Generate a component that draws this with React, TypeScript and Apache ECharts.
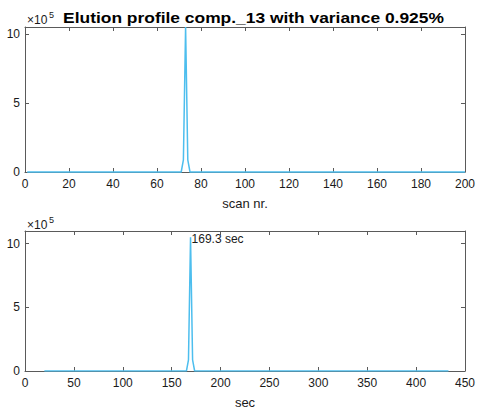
import React, { useEffect, useRef } from "react";
import * as echarts from "echarts";

// Scan numbers where the elution profile changes (flat zero elsewhere)
const scanNumbers = [1, 71, 72, 73, 74, 75, 200];
// Retention time (sec) of the same scans
const retentionSec = [19.8, 165.1, 167.2, 169.3, 171.4, 173.5, 433.1];
// Intensity of the component at those scans
const intensity = [0, 0, 88000, 1050000, 88000, 0, 0];

const titleText = "Elution profile comp._13 with variance 0.925%";
const peakLabel = "169.3 sec";
const scanTicks = { min: 0, max: 200, interval: 20 };
const secTicks = { min: 0, max: 450, interval: 50 };
const yTopMax = 1050000;
const yBottomMax = 1100000;
const yInterval = 500000;

const FONT = "'Liberation Sans', Arial, Helvetica, sans-serif";
const AX = "#5a5a5a";
const TXT = "#1a1a1a";
const BLUE = "#4DBEEE";

export default function App() {
  const ref = useRef<HTMLDivElement>(null);
  useEffect(() => {
    document.body.style.margin = "0";
    document.body.style.overflow = "hidden";
    if (!ref.current) return;
    const chart = echarts.init(ref.current, undefined, { renderer: "svg" });

    const baseX = (gridIndex: number, t: any, name: string) => ({
      type: "value",
      gridIndex,
      min: t.min,
      max: t.max,
      interval: t.interval,
      position: "bottom",
      name,
      nameLocation: "middle",
      nameGap: 25,
      nameTextStyle: { fontFamily: FONT, fontSize: 13, color: TXT },
      axisLine: { show: true, onZero: false, lineStyle: { color: AX, width: 1 } },
      axisTick: { show: true, inside: true, length: 4, lineStyle: { color: AX } },
      axisLabel: { show: true, margin: 6, fontFamily: FONT, fontSize: 12, color: TXT },
      splitLine: { show: false },
    });
    const topX = (gridIndex: number, t: any) => ({
      type: "value",
      gridIndex,
      min: t.min,
      max: t.max,
      interval: t.interval,
      position: "top",
      axisLine: { show: true, onZero: false, lineStyle: { color: AX, width: 1 } },
      axisTick: { show: true, inside: true, length: 4, lineStyle: { color: AX } },
      axisLabel: { show: false },
      splitLine: { show: false },
    });
    const fmt = (v: number) => (v % yInterval === 0 ? String(v / 100000) : "");
    const leftY = (gridIndex: number, max: number) => ({
      type: "value",
      gridIndex,
      min: 0,
      max,
      interval: yInterval,
      position: "left",
      axisLine: { show: true, onZero: false, lineStyle: { color: AX, width: 1 } },
      axisTick: { show: true, inside: true, length: 4, lineStyle: { color: AX } },
      axisLabel: { show: true, margin: 5, fontFamily: FONT, fontSize: 12, color: TXT, formatter: fmt },
      splitLine: { show: false },
    });
    const rightY = (gridIndex: number, max: number) => ({
      type: "value",
      gridIndex,
      min: 0,
      max,
      interval: yInterval,
      position: "right",
      axisLine: { show: true, onZero: false, lineStyle: { color: AX, width: 1 } },
      axisTick: { show: true, inside: true, length: 4, lineStyle: { color: AX } },
      axisLabel: { show: false },
      splitLine: { show: false },
    });

    const peakIdx = intensity.indexOf(Math.max(...intensity));

    chart.setOption({
      animation: false,
      backgroundColor: "#ffffff",
      grid: [
        { left: 25, top: 27, width: 443, height: 145 },
        { left: 25, top: 231, width: 443, height: 144 },
      ],
      xAxis: [
        baseX(0, scanTicks, "scan nr."),
        topX(0, scanTicks),
        baseX(1, secTicks, "sec"),
        topX(1, secTicks),
      ],
      yAxis: [
        leftY(0, yTopMax),
        rightY(0, yTopMax),
        leftY(1, yBottomMax),
        rightY(1, yBottomMax),
      ],
      series: [
        {
          type: "line",
          xAxisIndex: 0,
          yAxisIndex: 0,
          data: scanNumbers.map((s, i) => [s, intensity[i]]),
          showSymbol: false,
          lineStyle: { color: BLUE, width: 1.5 },
          itemStyle: { color: BLUE },
          clip: false,
        },
        {
          type: "line",
          xAxisIndex: 2,
          yAxisIndex: 2,
          data: retentionSec.map((s, i) => [s, intensity[i]]),
          showSymbol: false,
          lineStyle: { color: BLUE, width: 1.5 },
          itemStyle: { color: BLUE },
          markPoint: {
            symbol: "circle",
            symbolSize: 0,
            data: [
              {
                coord: [retentionSec[peakIdx], intensity[peakIdx]],
                label: {
                  show: true,
                  position: "right",
                  distance: 1,
                  offset: [0, 2],
                  formatter: peakLabel,
                  fontFamily: FONT,
                  fontSize: 12,
                  color: TXT,
                },
              },
            ],
          },
        },
      ],
      graphic: [
        {
          type: "text",
          x: 253.5,
          y: 17.5,
          scaleX: 1.16,
          style: {
            text: titleText,
            fontFamily: FONT,
            fontSize: 15,
            fontWeight: "bold",
            fill: "#000",
            textAlign: "center",
            textVerticalAlign: "middle",
          },
        },
        { type: "text", left: 27, top: 14, style: { text: "×10", fontFamily: FONT, fontSize: 12, fill: TXT } },
        { type: "text", left: 49, top: 10, style: { text: "5", fontFamily: FONT, fontSize: 9, fill: TXT } },
        { type: "text", left: 27, top: 219, style: { text: "×10", fontFamily: FONT, fontSize: 12, fill: TXT } },
        { type: "text", left: 49, top: 215, style: { text: "5", fontFamily: FONT, fontSize: 9, fill: TXT } },
      ],
    });
    return () => chart.dispose();
  }, []);
  return <div ref={ref} style={{ width: 478, height: 410 }} />;
}
